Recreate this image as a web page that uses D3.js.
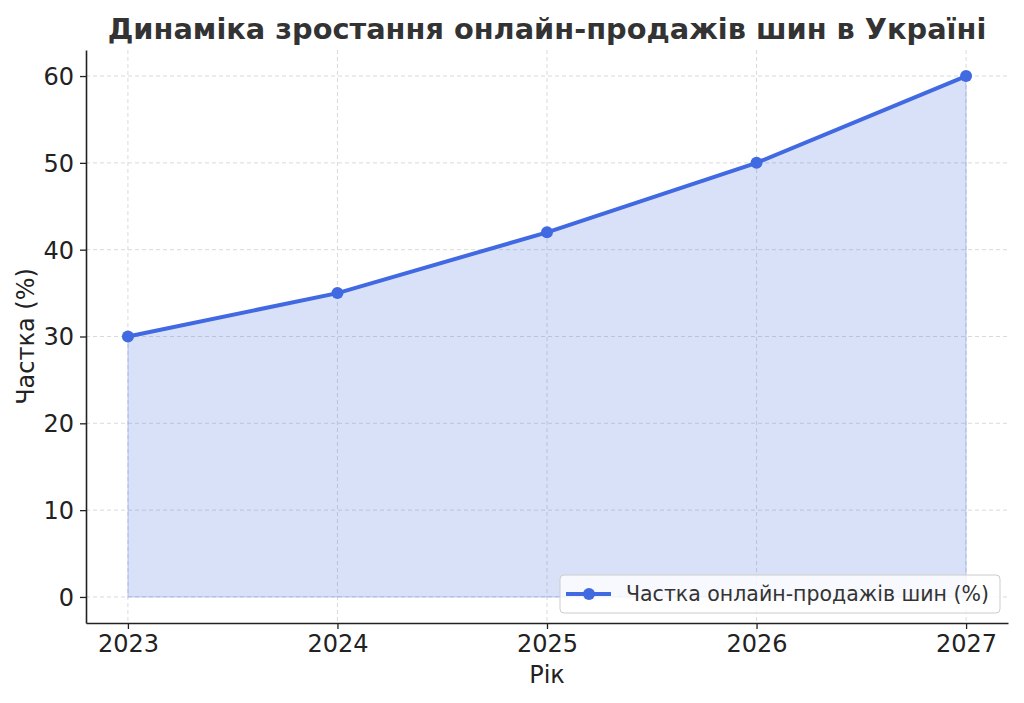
<!DOCTYPE html>
<html>
<head>
<meta charset="utf-8">
<script src="https://cdn.jsdelivr.net/npm/d3@7"></script>
<style>
  body { margin: 0; background: #fff; }
  text { font-family: "DejaVu Sans", sans-serif; }
</style>
</head>
<body>
<svg></svg>
<script>
// chart data
let years = [2023, 2024, 2025, 2026, 2027]
let shares = [30, 35, 42, 50, 60]
let yTicks = [0, 10, 20, 30, 40, 50, 60]
let seriesName = 'Частка онлайн-продажів шин (%)'

let width = 1024
let height = 703
let padLeft = 86, padRight = 1008, padTop = 50, padBottom = 623
let color = '#4169e1'

let svg = d3.select('svg').attr('width', width).attr('height', height)

let xScale = d3.scaleLinear().domain([2022.8, 2027.2]).range([padLeft, padRight])
let yScale = d3.scaleLinear().domain([-3, 63]).range([padBottom, padTop])

let points = years.map((y, i) => [y, shares[i]])

// grid
let grid = svg.append('g')
grid.selectAll('line.vx').data(years).enter().append('line')
    .attr('x1', d => xScale(d)).attr('x2', d => xScale(d))
    .attr('y1', padTop).attr('y2', padBottom)
    .attr('stroke', '#d0d0d0').attr('stroke-dasharray', '4,3').attr('stroke-width', 0.8)
grid.selectAll('line.hy').data(yTicks).enter().append('line')
    .attr('y1', d => yScale(d)).attr('y2', d => yScale(d))
    .attr('x1', padLeft).attr('x2', padRight)
    .attr('stroke', '#d0d0d0').attr('stroke-dasharray', '4,3').attr('stroke-width', 0.8)

// filled area under the line
let area = d3.area().x(d => xScale(d[0])).y0(yScale(0)).y1(d => yScale(d[1]))
svg.append('path').datum(points).attr('d', area)
   .attr('fill', color).attr('fill-opacity', 0.2)
   .attr('stroke', color).attr('stroke-opacity', 0.2).attr('stroke-width', 1.5)

// line + markers
let line = d3.line().x(d => xScale(d[0])).y(d => yScale(d[1]))
svg.append('path').datum(points).attr('d', line)
   .attr('fill', 'none').attr('stroke', color).attr('stroke-width', 4)
svg.selectAll('circle.pt').data(points).enter().append('circle')
   .attr('cx', d => xScale(d[0])).attr('cy', d => yScale(d[1]))
   .attr('r', 6).attr('fill', color)

// axes (tickSize first, then tickSizeOuter, otherwise the end ticks come back)
let xAxis = d3.axisBottom(xScale).tickValues(years).tickFormat(d3.format('d')).tickSize(6).tickSizeOuter(0).tickPadding(6)
let yAxis = d3.axisLeft(yScale).tickValues(yTicks).tickSize(6).tickSizeOuter(0).tickPadding(6)

let gx = svg.append('g').attr('transform', 'translate(0,' + padBottom + ')').call(xAxis)
let gy = svg.append('g').attr('transform', 'translate(' + padLeft + ',0)').call(yAxis)
for (let g of [gx, gy]) {
    g.select('.domain').attr('stroke', '#222').attr('stroke-width', 1.6)
    g.selectAll('.tick line').attr('stroke', '#222').attr('stroke-width', 1.3)
    g.selectAll('.tick text').attr('fill', '#222').style('font-size', '24px')
        .style('font-family', '"DejaVu Sans", sans-serif')
}
gy.selectAll('.tick text').attr('dy', '0.35em')

// labels
svg.append('text').attr('x', (padLeft + padRight) / 2).attr('y', 39).attr('text-anchor', 'middle')
   .style('font-size', '28.8px').style('font-weight', 'bold').attr('fill', '#333')
   .text('Динаміка зростання онлайн-продажів шин в Україні')
svg.append('text').attr('x', (padLeft + padRight) / 2).attr('y', 683).attr('text-anchor', 'middle')
   .style('font-size', '24px').attr('fill', '#222').text('Рік')
svg.append('text').attr('transform', 'translate(34,' + (padTop + padBottom) / 2 + ') rotate(-90)')
   .attr('text-anchor', 'middle').style('font-size', '24px').attr('fill', '#222').text('Частка (%)')

// legend
let lg = svg.append('g').attr('transform', 'translate(560,575)')
lg.append('rect').attr('width', 440).attr('height', 38).attr('rx', 4)
  .attr('fill', 'rgba(255,255,255,0.8)').attr('stroke', '#ccc')
lg.append('line').attr('x1', 6).attr('x2', 51).attr('y1', 19).attr('y2', 19)
  .attr('stroke', color).attr('stroke-width', 4)
lg.append('circle').attr('cx', 29).attr('cy', 19).attr('r', 6).attr('fill', color)
lg.append('text').attr('x', 66).attr('y', 26).style('font-size', '20.5px').attr('fill', '#333').text(seriesName)
</script>
</body>
</html>
